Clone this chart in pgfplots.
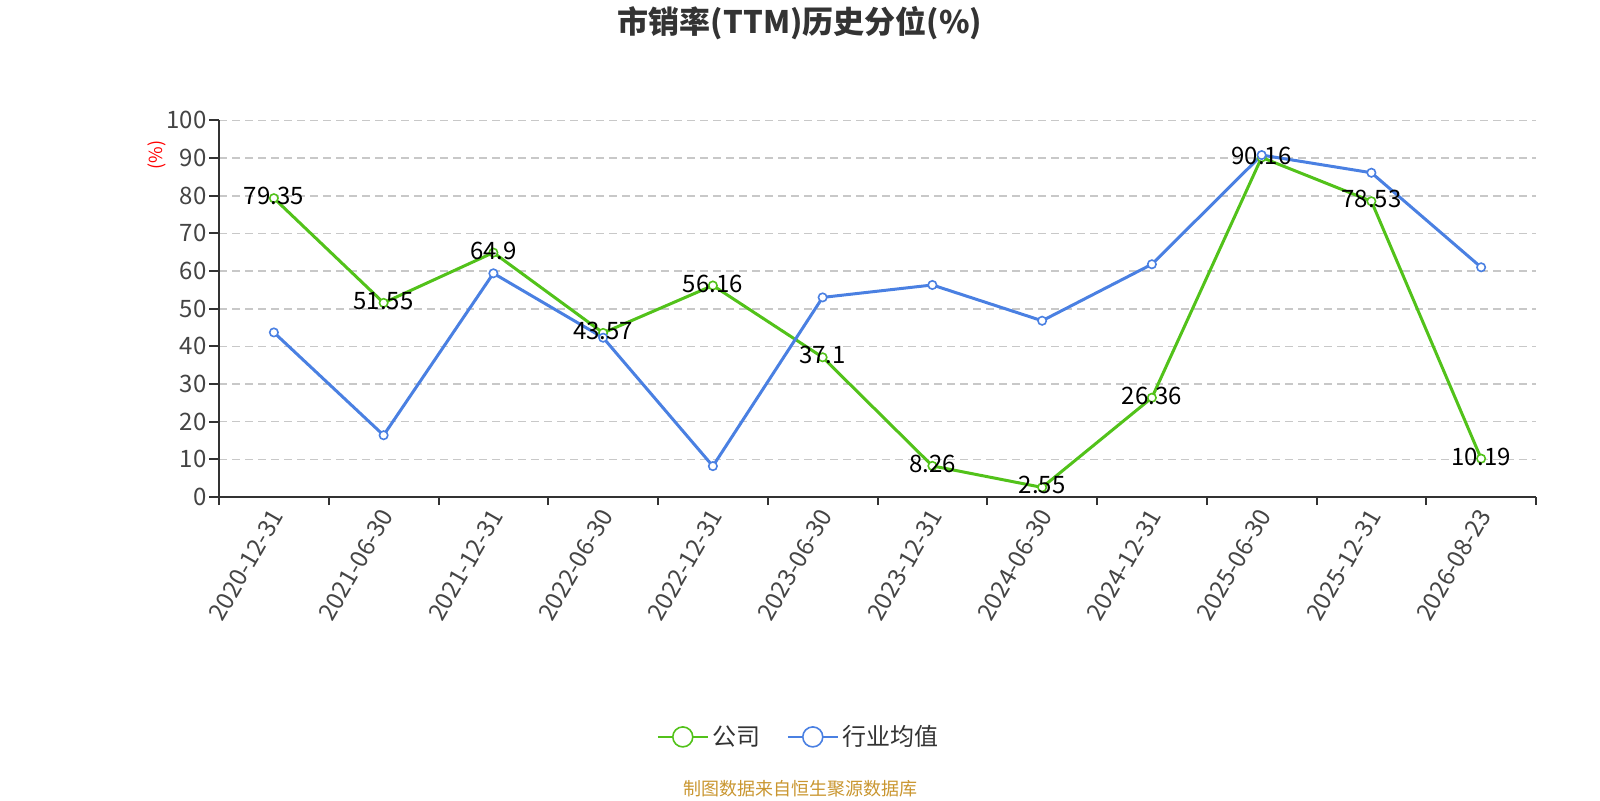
\documentclass[border=0pt]{standalone}
\usepackage{fontspec}
\setmainfont{Noto Sans CJK SC}
\usepackage{pgfplots}
\pgfplotsset{compat=1.18}
\definecolor{cgreen}{RGB}{82,194,26}
\definecolor{cblue}{RGB}{74,128,226}
\definecolor{tickgray}{RGB}{68,68,68}
\definecolor{axisgray}{RGB}{51,51,51}
\definecolor{gridgray}{RGB}{200,200,200}
\definecolor{foot}{RGB}{201,150,48}
\begin{document}
\begin{tikzpicture}[x=1pt,y=1pt]
\path[use as bounding box] (0,0) rectangle (800,400);
\begin{axis}[
  at={(109.5pt,151.5pt)}, anchor=south west,
  scale only axis, width=658.5pt, height=188.3pt,
  xmin=-0.5, xmax=11.5, ymin=0, ymax=100,
  axis x line=bottom, axis y line=left,
  axis line style={-, draw=axisgray, line width=1pt},
  /pgf/number format/assume math mode=true,
  tick align=outside,
  xtick={0,...,11},
  xticklabels={2020-12-31,2021-06-30,2021-12-31,2022-06-30,2022-12-31,2023-06-30,2023-12-31,2024-06-30,2024-12-31,2025-06-30,2025-12-31,2026-08-23},
  major x tick style={draw=none},
  minor xtick={-0.5,0.5,...,11.5},
  minor x tick style={draw=axisgray, line width=1pt},
  minor tick length=4pt,
  ytick={0,10,...,100},
  major y tick style={draw=axisgray, line width=1pt},
  major tick length=5pt,
  ymajorgrids,
  grid style={draw=gridgray, line width=0.8pt, dash pattern=on 4pt off 2.5pt},
  tick label style={font=\fontsize{12}{14}\selectfont, text=tickgray},
  xticklabel style={rotate=60, anchor=east, inner sep=1pt, yshift=-2.5pt},
  yticklabel style={anchor=east, inner sep=1pt},
  ylabel={(\%)},
  every axis y label/.style={at={(axis description cs:-0.0473,0.908)}, rotate=90, anchor=center, text=red, font=\fontsize{9}{11}\selectfont},
  legend style={at={(axis description cs:0.441,-0.637)}, anchor=center, draw=none, fill=none,
    legend columns=2, font=\fontsize{12}{14}\selectfont, text=axisgray,
    /tikz/every even column/.append style={column sep=11pt}},
  legend image code/.code={\draw[mark repeat=2,mark phase=2,#1,mark size=5pt,line width=1pt] plot coordinates {(0pt,0pt) (12.5pt,0pt) (25pt,0pt)};},
  clip=false,
]
\addplot[cgreen, line width=1.5pt, mark=*, mark size=2.1pt, mark options={fill=white, line width=0.8pt}]
  coordinates {(0,79.35) (1,51.55) (2,64.9) (3,43.57) (4,56.16) (5,37.1) (6,8.26) (7,2.55) (8,26.36) (9,90.16) (10,78.53) (11,10.19)};
\addlegendentry{公司}
\addplot[cblue, line width=1.5pt, mark=*, mark size=2.1pt, mark options={fill=white, line width=0.8pt}]
  coordinates {(0,43.7) (1,16.4) (2,59.4) (3,42.3) (4,8.2) (5,53.0) (6,56.3) (7,46.8) (8,61.8) (9,90.8) (10,86.1) (11,61.0)};
\addlegendentry{行业均值}
\addplot[draw=none, mark=none, forget plot, point meta=explicit symbolic,
  nodes near coords,
  every node near coord/.append style={anchor=center, yshift=1pt, inner sep=0pt, text=black, font=\fontsize{12}{14}\selectfont}]
  coordinates {(0,79.35)[79.35] (1,51.55)[51.55] (2,64.9)[64.9] (3,43.57)[43.57] (4,56.16)[56.16] (5,37.1)[37.1] (6,8.26)[8.26] (7,2.55)[2.55] (8,26.36)[26.36] (9,90.16)[90.16] (10,78.53)[78.53] (11,10.19)[10.19]};
\end{axis}
\node[font=\fontsize{15.5}{18}\selectfont\bfseries, text=axisgray] at (400,388.3) {市销率(TTM)历史分位(\%)};
\node[font=\fontsize{9}{11}\selectfont, text=foot] at (400,5.8) {制图数据来自恒生聚源数据库};
\end{tikzpicture}
\end{document}
